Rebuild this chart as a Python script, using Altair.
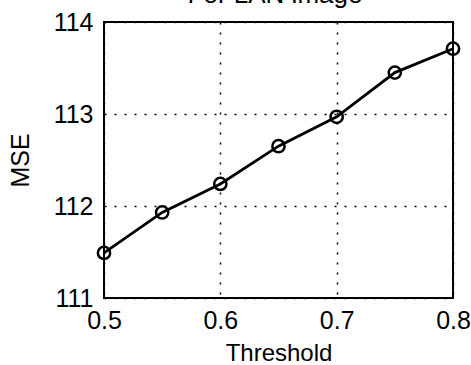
import altair as alt
import pandas as pd

threshold = [0.5, 0.55, 0.6, 0.65, 0.7, 0.75, 0.8]
mse = [111.49, 111.93, 112.24, 112.65, 112.97, 113.45, 113.71]
x_ticks = [0.5, 0.6, 0.7, 0.8]
y_ticks = [111, 112, 113, 114]
title_text = "For LAN image"

df = pd.DataFrame({"Threshold": threshold, "MSE": mse})
FONT = "Liberation Sans"

x = alt.X("Threshold:Q", scale=alt.Scale(domain=[0.5, 0.8], nice=False),
          axis=alt.Axis(values=x_ticks, format=".1f", title="Threshold",
                        labelFontSize=25, titleFontSize=24, labelFont=FONT, titleFont=FONT,
                        labelColor="black", titleColor="black", titleFontWeight="normal",
                        grid=True, gridColor="black", gridDash=[2, 8], gridWidth=1.5, gridOpacity=1,
                        domain=False, ticks=False, labelPadding=10, titlePadding=8,
                        labelFlush=False))
y = alt.Y("MSE:Q", scale=alt.Scale(domain=[111, 114], nice=False, zero=False),
          axis=alt.Axis(values=y_ticks, format="d", title="MSE",
                        labelFontSize=25, titleFontSize=25, labelFont=FONT, titleFont=FONT,
                        labelColor="black", titleColor="black", titleFontWeight="normal",
                        grid=True, gridColor="black", gridDash=[2, 8], gridWidth=1.5, gridOpacity=1,
                        domain=False, ticks=False, labelPadding=11, titlePadding=20,
                        labelFlush=False))

line = alt.Chart(df).mark_line(color="black", strokeWidth=2.8).encode(x=x, y=y)
pts = alt.Chart(df).mark_point(shape="circle", filled=False, color="black",
                               size=150, strokeWidth=2.5, opacity=1).encode(x=x, y=y)
title = alt.Chart(pd.DataFrame({"t": [title_text]})).mark_text(
    font=FONT, fontSize=26, color="black", baseline="alphabetic", align="center"
).encode(x=alt.value(171), y=alt.value(-19), text="t:N")

chart = alt.layer(line, pts, title).properties(
    width=349, height=276,
    background="white",
    autosize=alt.AutoSizeParams(type="none"),
    padding={"left": 104, "top": 22, "right": 18, "bottom": 67},
).configure_view(stroke="black", strokeWidth=2, fill="white")

chart.save("out.html", embed_options={"renderer": "svg", "actions": False})
